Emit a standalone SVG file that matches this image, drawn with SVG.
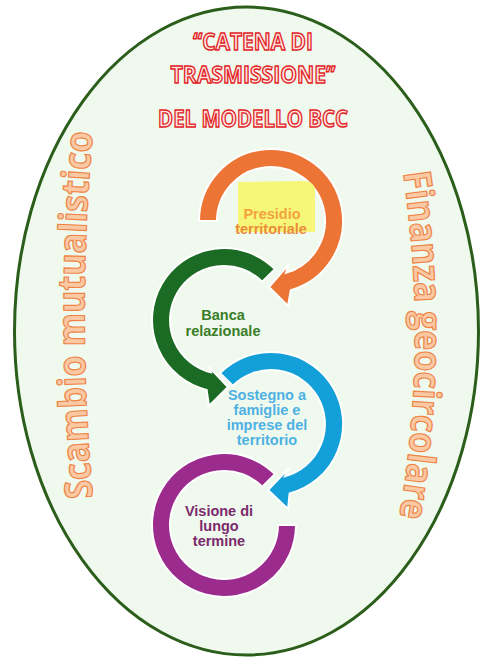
<svg xmlns="http://www.w3.org/2000/svg" width="481" height="657" viewBox="0 0 481 657">
<style>
.title{font-family:"Open Sans","Liberation Sans",sans-serif;font-weight:700;font-size:23px;fill:#fce4e2;stroke:#e3231f;stroke-width:1.4px;text-anchor:middle}
.side{font-family:"Open Sans","Liberation Sans",sans-serif;font-weight:700;font-size:38px;fill:#fbc8a4;stroke:#ee8444;stroke-width:1.2px}
.lbl{font-family:"Liberation Sans",Arial,sans-serif;font-weight:700;font-size:14.5px;text-anchor:middle}
.ring{stroke:#ffffff;stroke-width:2;stroke-linejoin:miter}
</style>
<defs>
<path id="pathL" d="M93,500 Q76,315 93,130"/>
<path id="pathR" d="M402,165 Q430,345 398,525"/>
</defs>
<g id="background">
<ellipse cx="246.5" cy="331" rx="232" ry="324" fill="#f0f9ee" stroke="#2b5e1b" stroke-width="3"/>
</g>
<g id="title">
<text class="title" x="253" y="50" textLength="120" lengthAdjust="spacingAndGlyphs">“CATENA DI</text>
<text class="title" x="253" y="83" textLength="165" lengthAdjust="spacingAndGlyphs">TRASMISSIONE”</text>
<text class="title" x="253" y="127" textLength="190" lengthAdjust="spacingAndGlyphs">DEL MODELLO BCC</text>
</g>
<g id="side-left">
<text class="side"><textPath href="#pathL" startOffset="50%" text-anchor="middle" textLength="366" lengthAdjust="spacingAndGlyphs">Scambio mutualistico</textPath></text>
</g>
<g id="side-right">
<text class="side"><textPath href="#pathR" startOffset="50%" text-anchor="middle" textLength="346" lengthAdjust="spacingAndGlyphs">Finanza geocircolare</textPath></text>
</g>
<g id="connectors">
<path id="ring-orange" class="ring" fill="#ec7535" d="M199,221 A72,72 0 1 1 290.8,290.2 L288,306 L269,287 L289,264 L285.9,272.9 A54,54 0 1 0 217,221 Z"/>
<path id="ring-green" class="ring" fill="#1b6b24" d="M274.9,269.1 A72,72 0 1 0 206.6,389.9 L209,406 L228,387 L209,367 L210.9,372.4 A54,54 0 1 1 262.2,281.8 Z"/>
<path id="ring-blue" class="ring" fill="#139fd8" d="M220.1,373.1 A72,72 0 1 1 289.6,493.5 L288,509 L268,490 L289,468 L285,476.2 A54,54 0 1 0 232.8,385.8 Z"/>
<path id="ring-purple" class="ring" fill="#9c2b8e" d="M274.9,474.1 A72,72 0 1 0 296,525 L278,525 A54,54 0 1 1 262.2,486.8 Z"/>
</g>
<g id="node-presidio">
<path d="M238,182 L304,181 Q312,181 315,188 L315,232 L238,232 Z" fill="#f6f678"/>
<text class="lbl" x="272" y="219" fill="#f3a33a">Presidio</text>
<text class="lbl" x="271" y="234" fill="#ec8a3c">territoriale</text>
</g>
<g id="node-banca">
<text class="lbl" x="223" y="320" fill="#3a7d28">Banca</text>
<text class="lbl" x="223" y="336" fill="#3a7d28">relazionale</text>
</g>
<g id="node-sostegno">
<text class="lbl" x="267" y="400" fill="#4db1e3">Sostegno a</text>
<text class="lbl" x="267" y="415" fill="#4db1e3">famiglie e</text>
<text class="lbl" x="267" y="430" fill="#4db1e3">imprese del</text>
<text class="lbl" x="267" y="445" fill="#4db1e3">territorio</text>
</g>
<g id="node-visione">
<text class="lbl" x="219" y="516" fill="#7b2a6c">Visione di</text>
<text class="lbl" x="219" y="531" fill="#7b2a6c">lungo</text>
<text class="lbl" x="219" y="546" fill="#7b2a6c">termine</text>
</g>
</svg>
